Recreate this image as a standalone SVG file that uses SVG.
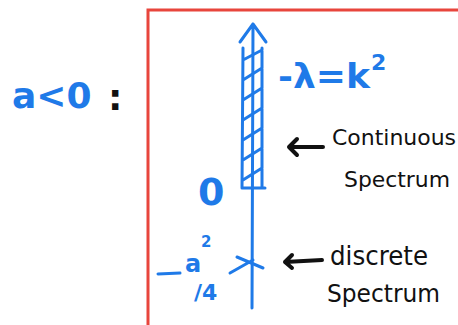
<svg xmlns="http://www.w3.org/2000/svg" width="458" height="325" viewBox="0 0 458 325">
<style>
.blue{fill:none;stroke:#1f7ae8;stroke-width:3;stroke-linecap:round;stroke-linejoin:round}
.bt{fill:#1f7ae8;font-family:"DejaVu Sans",sans-serif;font-weight:bold}
.kt{fill:#111;font-family:"DejaVu Sans Condensed","DejaVu Sans",sans-serif}
.ka{fill:none;stroke:#111;stroke-width:4;stroke-linecap:round;stroke-linejoin:round}
</style>
<rect width="458" height="325" fill="#fff"/>
<path d="M148 330 V10 H470" fill="none" stroke="#e8453c" stroke-width="3"/>
<g id="label-a">
<text class="bt" x="12" y="108" font-size="36">a&lt;0</text>
<text x="108" y="110" font-size="36" font-family="DejaVu Sans,sans-serif" font-weight="bold" fill="#111">:</text>
</g>
<g id="axis">
<path class="blue" d="M253 24 L252 308 M240 42 L253 24 L266 42"/>
</g>
<g id="continuous-band">
<path class="blue" d="M243 48 L242 188 M262 48 L262 188 M242 188 L265 188 M243 60 L262 50 M243 80 L262 68 M243 100 L262 88 M243 120 L262 108 M243 140 L262 128 M243 160 L262 148 M243 180 L262 168"/>
</g>
<g id="label-lambda">
<text class="bt" x="278" y="88" font-size="34" textLength="92" lengthAdjust="spacingAndGlyphs">-λ=k</text>
<text class="bt" x="371" y="70" font-size="22">2</text>
</g>
<g id="label-zero">
<text class="bt" x="198" y="205" font-size="38">0</text>
</g>
<g id="discrete-point">
<path class="blue" d="M237 257 L263 268 M230 273 L253 260" stroke-width="4"/>
</g>
<g id="label-a2-4">
<path class="blue" d="M158 274 L180 273" stroke-width="5"/>
<text class="bt" x="185" y="272" font-size="24">a</text>
<text class="bt" x="201" y="247" font-size="15">2</text>
<text class="bt" x="194" y="300" font-size="22">/4</text>
</g>
<g id="connectors">
<path class="ka" d="M323 147 L289 147 M297 139 L289 147 L297 155"/>
<path class="ka" d="M322 260 L285 262 M292 255 L285 262 L292 268"/>
</g>
<g id="label-continuous">
<text class="kt" x="332" y="145" font-size="22" textLength="124" lengthAdjust="spacingAndGlyphs">Continuous</text>
<text class="kt" x="344" y="187" font-size="22" textLength="106" lengthAdjust="spacingAndGlyphs">Spectrum</text>
</g>
<g id="label-discrete">
<text class="kt" x="330" y="265" font-size="26" textLength="98" lengthAdjust="spacingAndGlyphs">discrete</text>
<text class="kt" x="327" y="302" font-size="24" textLength="113" lengthAdjust="spacingAndGlyphs">Spectrum</text>
</g>
</svg>
